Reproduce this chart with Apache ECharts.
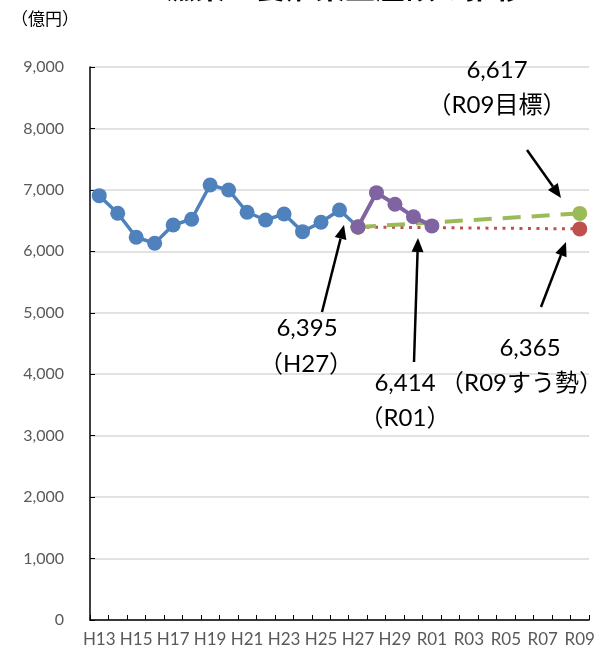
<!DOCTYPE html>
<html><head><meta charset="utf-8">
<script src="https://cdn.jsdelivr.net/npm/echarts@6/dist/echarts.min.js"></script>
<style>html,body{margin:0;padding:0;background:#fff}#c{width:606px;height:652px}</style>
</head><body><div id="c"></div>
<script>
const categories = ['H13','H14','H15','H16','H17','H18','H19','H20','H21','H22','H23','H24','H25','H26','H27','H28','H29','H30','R01','R02','R03','R04','R05','R06','R07','R08','R09'];
const actualValues = [6906,6619,6229,6131,6429,6522,7080,6999,6636,6510,6608,6320,6473,6673,6395];
const recentValues = [6395,6955,6766,6564,6414];
const targetValues = [6395,6617];
const trendValues = [6395,6365];
const yTicks = [0,1000,2000,3000,4000,5000,6000,7000,8000,9000];

const n = categories.length;
function seriesData(startIdx, vals, sparse) {
  const arr = new Array(n).fill(null);
  if (sparse) { arr[startIdx] = vals[0]; arr[n-1] = vals[1]; }
  else vals.forEach((v,i)=>{ arr[startIdx+i] = v; });
  return arr;
}
const iH27 = categories.indexOf('H27');

const chart = echarts.init(document.getElementById('c'), null, {renderer:'canvas'});
const FONT = 'Lato, "Noto Sans CJK JP", sans-serif';

function arrow(x1,y1,x2,y2){
  const ang = Math.atan2(y2-y1,x2-x1), L=14, W=6;
  const bx = x2 - L*Math.cos(ang), by = y2 - L*Math.sin(ang);
  const px = -Math.sin(ang)*W, py = Math.cos(ang)*W;
  return [
    {type:'line', shape:{x1:x1,y1:y1,x2:bx,y2:by}, style:{stroke:'#000',lineWidth:2.5}, z:100},
    {type:'polygon', shape:{points:[[x2,y2],[bx+px,by+py],[bx-px,by-py]]}, style:{fill:'#000'}, z:100}
  ];
}
function txt(x,y,s,align){
  return {type:'text', x:x, y:y, z:100, style:{text:s, font:'24px '+FONT, fill:'#000', textAlign:align||'center', textVerticalAlign:'middle'}};
}

chart.setOption({
  animation:false,
  backgroundColor:'#fff',
  grid:{left:90, right:17, top:67, bottom:32},
  xAxis:{
    type:'category', data:categories, boundaryGap:true,
    axisLine:{lineStyle:{color:'#000',width:1.5}},
    axisTick:{show:true, inside:true, length:5, interval:0, lineStyle:{color:'#000'}},
    axisLabel:{interval:1, color:'#595959', fontSize:17, fontFamily:FONT, margin:11, hideOverlap:false}
  },
  yAxis:{
    type:'value', min:0, max:9000, interval:1000,
    axisLine:{show:true, lineStyle:{color:'#000',width:1.5}},
    axisTick:{show:true, inside:true, length:5, lineStyle:{color:'#000'}},
    splitLine:{lineStyle:{color:'#d9d9d9', width:1.5}},
    axisLabel:{color:'#595959', fontSize:16, fontFamily:FONT, margin:26,
      formatter:v=>yTicks.includes(v)?v.toLocaleString('en-US'):''}
  },
  series:[
    {type:'line', data:seriesData(0,actualValues), symbol:'circle', symbolSize:15, showAllSymbol:true,
     itemStyle:{color:'#4F81BD'}, lineStyle:{color:'#4F81BD', width:3.5}, z:2},
    {type:'line', data:seriesData(iH27,trendValues,true), connectNulls:true, symbol:'circle', symbolSize:15,
     showAllSymbol:true, itemStyle:{color:'#C0504D'}, lineStyle:{color:'#C0504D', width:3, type:[3,5.5]}, z:3},
    {type:'line', data:seriesData(iH27,targetValues,true), connectNulls:true, symbol:'circle', symbolSize:15,
     showAllSymbol:true, itemStyle:{color:'#9BBB59'}, lineStyle:{color:'#9BBB59', width:4, type:[18,11]}, z:4},
    {type:'line', data:seriesData(iH27,recentValues), symbol:'circle', symbolSize:15, showAllSymbol:true,
     itemStyle:{color:'#8064A2'}, lineStyle:{color:'#8064A2', width:4}, z:5}
  ],
  graphic:[
    {type:'text', x:345, y:-13, z:100, style:{text:'漁業・養殖業生産額の推移', font:'bold 30px "Noto Sans CJK JP", sans-serif', fill:'#000', textAlign:'center', textVerticalAlign:'middle'}},
    {type:'text', x:45, y:20, z:100, style:{text:'（億円）', font:'17px '+FONT, fill:'#000', textAlign:'center', textVerticalAlign:'middle'}},
    {type:'text', x:12, y:507, z:100, style:{text:'）', font:'22px '+FONT, fill:'#000', textAlign:'right', textVerticalAlign:'middle'}},
    txt(497,70,'6,617'), txt(497,105,'（R09目標）'),
    txt(307,328,'6,395'), txt(306,364,'（H27）'),
    txt(405,383,'6,414'), txt(603,383,'（R09すう勢）','right'),
    txt(405,418,'（R01）'),
    txt(530,348,'6,365'),
    ...arrow(527,150,561,198),
    ...arrow(322,312,344,225),
    ...arrow(414,362,418,238),
    ...arrow(541,307,566,242)
  ]
});
</script></body></html>
